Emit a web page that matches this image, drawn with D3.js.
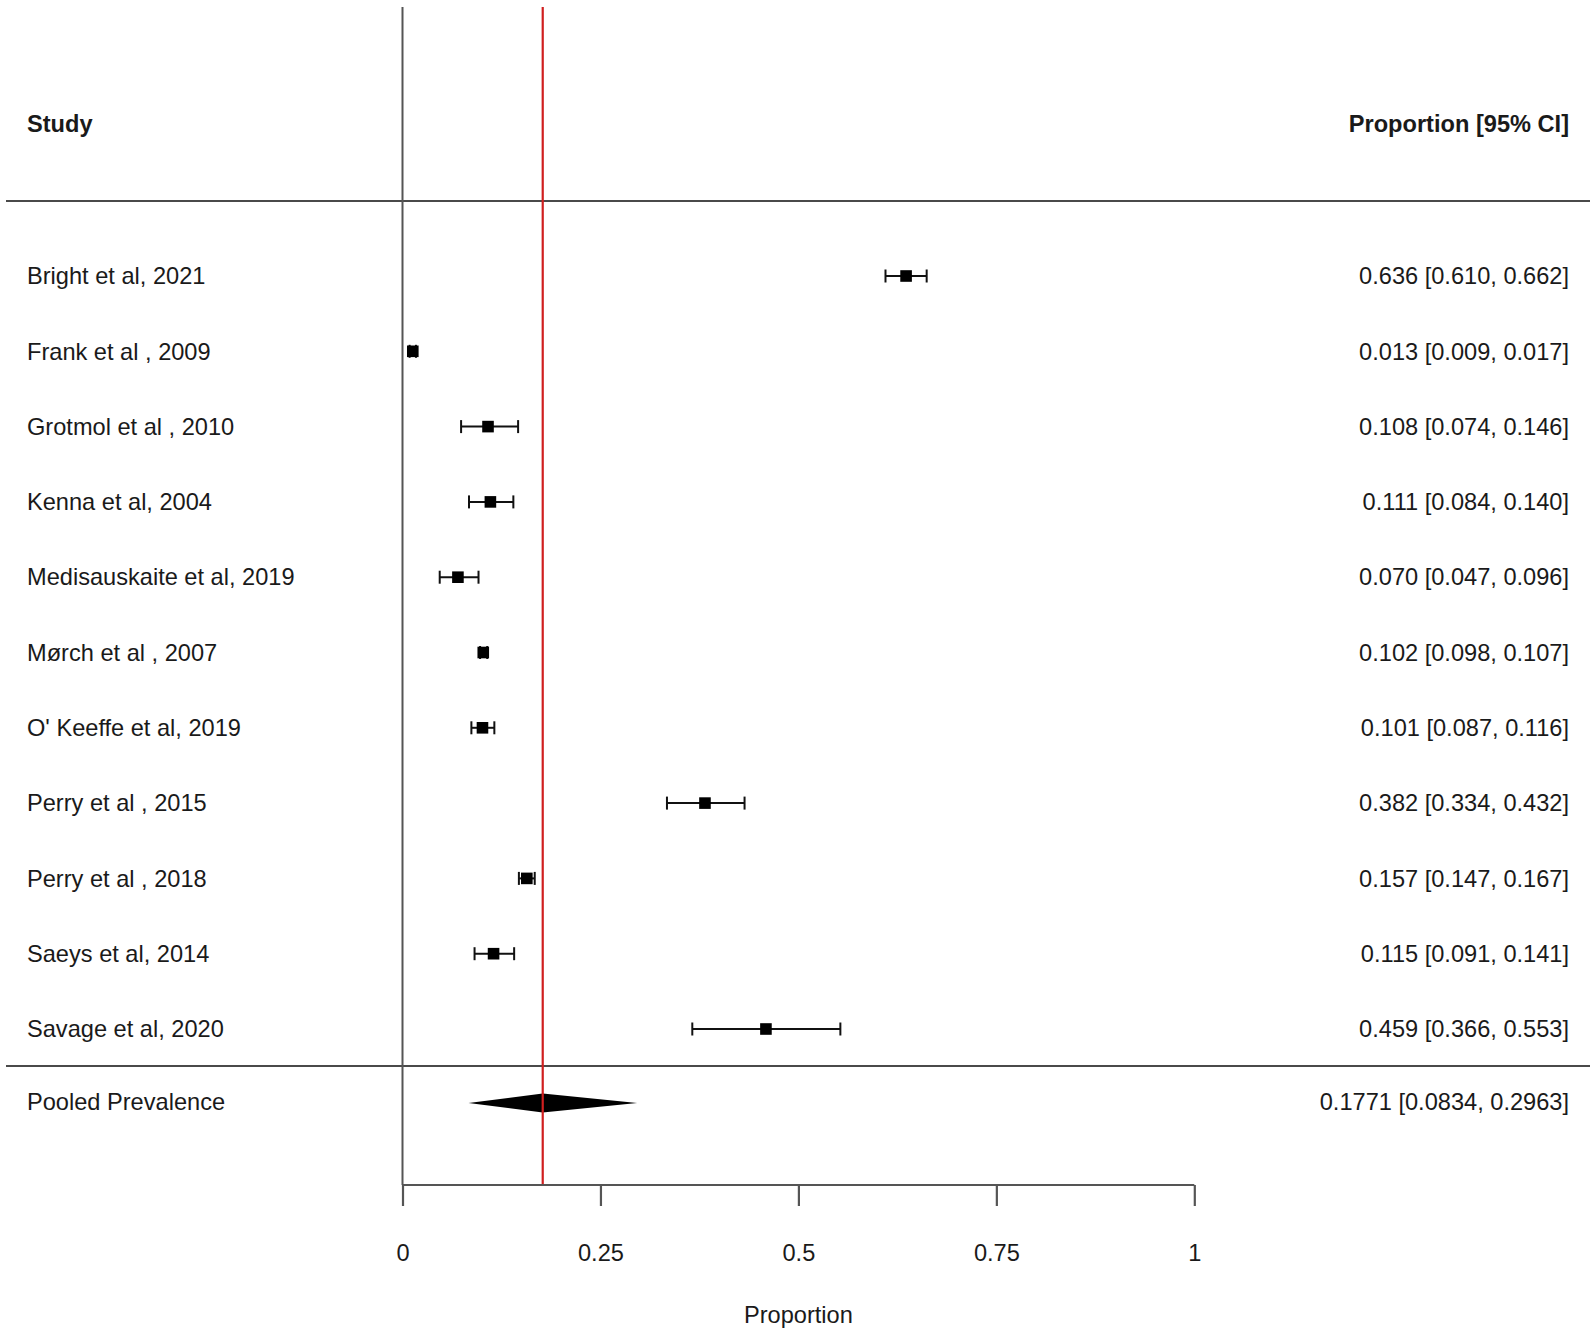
<!DOCTYPE html>
<html>
<head>
<meta charset="utf-8">
<script src="https://cdn.jsdelivr.net/npm/d3@7/dist/d3.min.js"></script>
<style>
  html, body { margin: 0; padding: 0; background: #fff; }
  svg { display: block; }
  text { font-family: "Liberation Sans", Arial, Helvetica, sans-serif; fill: #1a1a1a; }
</style>
</head>
<body>
<svg id="chart" width="1595" height="1335"></svg>
<script>
const studies = [
  "Bright et al, 2021",
  "Frank et al , 2009",
  "Grotmol et al , 2010",
  "Kenna et al, 2004",
  "Medisauskaite et al, 2019",
  "Mørch et al , 2007",
  "O' Keeffe et al, 2019",
  "Perry et al , 2015",
  "Perry et al , 2018",
  "Saeys et al, 2014",
  "Savage et al, 2020"
];
const estimates = [0.636, 0.013, 0.108, 0.111, 0.070, 0.102, 0.101, 0.382, 0.157, 0.115, 0.459];
const lowers    = [0.610, 0.009, 0.074, 0.084, 0.047, 0.098, 0.087, 0.334, 0.147, 0.091, 0.366];
const uppers    = [0.662, 0.017, 0.146, 0.140, 0.096, 0.107, 0.116, 0.432, 0.167, 0.141, 0.553];
const ciLabels  = [
  "0.636 [0.610, 0.662]",
  "0.013 [0.009, 0.017]",
  "0.108 [0.074, 0.146]",
  "0.111 [0.084, 0.140]",
  "0.070 [0.047, 0.096]",
  "0.102 [0.098, 0.107]",
  "0.101 [0.087, 0.116]",
  "0.382 [0.334, 0.432]",
  "0.157 [0.147, 0.167]",
  "0.115 [0.091, 0.141]",
  "0.459 [0.366, 0.553]"
];
const pooledLabel = "Pooled Prevalence";
const pooledEst = 0.1771;
const pooledLow = 0.0834;
const pooledHigh = 0.2963;
const pooledText = "0.1771 [0.0834, 0.2963]";
const tickValues = [0, 0.25, 0.5, 0.75, 1];
const tickLabels = ["0", "0.25", "0.5", "0.75", "1"];
const headerStudy = "Study";
const headerCI = "Proportion [95% CI]";
const axisTitle = "Proportion";

const svg = d3.select("#chart");
const fs = 23.6;

const x = d3.scaleLinear().domain([0, 1]).range([402.5, 1194.3]);
const y = d3.scaleLinear().domain([0, studies.length - 1]).range([276, 1029]);
const pooledY = 1103;
const headerY = 124;
const axisY = 1185;
const topY = 7;

// header & separator lines
svg.append("line").attr("x1", 6).attr("x2", 1590).attr("y1", 201).attr("y2", 201)
  .attr("stroke", "#4a4a4a").attr("stroke-width", 2);
svg.append("line").attr("x1", 6).attr("x2", 1590).attr("y1", 1066).attr("y2", 1066)
  .attr("stroke", "#4a4a4a").attr("stroke-width", 2);

// vertical zero line
svg.append("line").attr("x1", x(0)).attr("x2", x(0)).attr("y1", topY).attr("y2", axisY)
  .attr("stroke", "#555").attr("stroke-width", 2);

// headers
svg.append("text").attr("x", 27).attr("y", headerY).attr("dy", "0.35em")
  .attr("font-size", fs).attr("font-weight", "bold").text(headerStudy);
svg.append("text").attr("x", 1569).attr("y", headerY).attr("dy", "0.35em")
  .attr("text-anchor", "end").attr("font-size", fs).attr("font-weight", "bold").text(headerCI);

// rows
const rows = svg.append("g");
studies.forEach((s, i) => {
  const yy = y(i);
  rows.append("text").attr("x", 27).attr("y", yy).attr("dy", "0.35em")
    .attr("font-size", fs).text(s);
  rows.append("text").attr("x", 1569).attr("y", yy).attr("dy", "0.35em")
    .attr("text-anchor", "end").attr("font-size", fs).text(ciLabels[i]);
  rows.append("line").attr("x1", x(lowers[i])).attr("x2", x(uppers[i]))
    .attr("y1", yy).attr("y2", yy).attr("stroke", "#111").attr("stroke-width", 2);
  [lowers[i], uppers[i]].forEach(v => {
    rows.append("line").attr("x1", x(v)).attr("x2", x(v))
      .attr("y1", yy - 6.5).attr("y2", yy + 6.5).attr("stroke", "#111").attr("stroke-width", 2);
  });
  rows.append("rect").attr("x", x(estimates[i]) - 5.8).attr("y", yy - 5.8)
    .attr("width", 11.6).attr("height", 11.6).attr("fill", "#000");
});

// pooled
svg.append("text").attr("x", 27).attr("y", pooledY - 1).attr("dy", "0.35em")
  .attr("font-size", fs).text(pooledLabel);
svg.append("text").attr("x", 1569).attr("y", pooledY - 1).attr("dy", "0.35em")
  .attr("text-anchor", "end").attr("font-size", fs).text(pooledText);
svg.append("path")
  .attr("d", `M${x(pooledLow)},${pooledY} L${x(pooledEst)},${pooledY - 9.5} L${x(pooledHigh)},${pooledY} L${x(pooledEst)},${pooledY + 9.5} Z`)
  .attr("fill", "#000");

// red reference line
svg.append("line").attr("x1", x(pooledEst)).attr("x2", x(pooledEst)).attr("y1", topY).attr("y2", axisY)
  .attr("stroke", "#d01f1f").attr("stroke-width", 2.2);

// axis
const axis = d3.axisBottom(x).tickValues(tickValues)
  .tickFormat((d, i) => tickLabels[i]).tickSize(21).tickPadding(38);
const ag = svg.append("g").attr("transform", `translate(0,${axisY})`).call(axis);
ag.select(".domain").attr("stroke", "#555").attr("stroke-width", 2.2).attr("d", `M${x(0)},0H${x(1)}`);
ag.selectAll(".tick line").attr("stroke", "#555").attr("stroke-width", 2.2);
ag.selectAll(".tick text").attr("font-size", fs).attr("fill", "#1a1a1a")
  .attr("font-family", "'Liberation Sans', Arial, sans-serif");

svg.append("text").attr("x", x(0.5)).attr("y", 1315).attr("dy", "0.35em")
  .attr("text-anchor", "middle").attr("font-size", fs).text(axisTitle);
</script>
</body>
</html>
